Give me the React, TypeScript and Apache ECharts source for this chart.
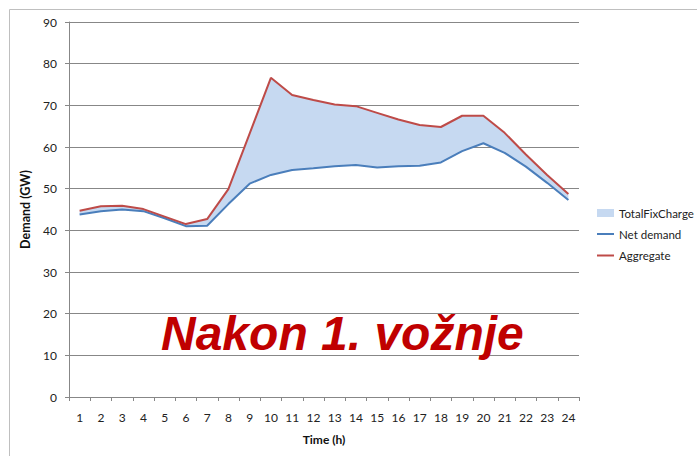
import React, { useEffect, useRef } from "react";
import * as echarts from "echarts";

const hours = ["1","2","3","4","5","6","7","8","9","10","11","12","13","14","15","16","17","18","19","20","21","22","23","24"];
const netDemand = [43.8, 44.6, 45.0, 44.6, 42.9, 41.0, 41.1, 46.3, 51.2, 53.3, 54.5, 54.9, 55.4, 55.7, 55.1, 55.4, 55.5, 56.3, 59.0, 60.9, 58.6, 55.3, 51.4, 47.3];
const aggregate = [44.7, 45.8, 45.9, 45.1, 43.3, 41.5, 42.7, 49.9, 63.2, 76.6, 72.5, 71.3, 70.2, 69.8, 68.2, 66.6, 65.3, 64.8, 67.5, 67.5, 63.4, 58.2, 53.3, 48.7];
const yTicks = { min: 0, max: 90, interval: 10 };

const FONT = "Lato";
const GRID = "#878787";

export default function App() {
  const ref = useRef<HTMLDivElement>(null);
  useEffect(() => {
    if (!ref.current) return;
    const chart = echarts.init(ref.current, null, { renderer: "svg" });
    const fill = aggregate.map((v, i) => +(v - netDemand[i]).toFixed(2));
    const legendText = { fontFamily: FONT, fontSize: 11.5, lineHeight: 14, color: "#222" };
    chart.setOption({
      animation: false,
      backgroundColor: "#ffffff",
      textStyle: { fontFamily: FONT },
      grid: { left: 69, right: 118, top: 22, bottom: 59, containLabel: false },
      legend: [
        {
          orient: "vertical",
          left: 592,
          top: 201,
          itemWidth: 17,
          itemHeight: 8,
          textStyle: legendText,
          data: [{ name: "TotalFixCharge", icon: "rect", itemStyle: { color: "#C6D9F1" } }],
        },
        {
          orient: "vertical",
          left: 592,
          top: 222,
          itemWidth: 17,
          itemHeight: 2,
          itemGap: 7.5,
          textStyle: legendText,
          data: [
            { name: "Net demand", icon: "rect", itemStyle: { color: "#4A7EBB" } },
            { name: "Aggregate", icon: "rect", itemStyle: { color: "#BE4B48" } },
          ],
        },
      ],
      xAxis: {
        type: "category",
        data: hours,
        boundaryGap: true,
        name: "Time (h)",
        nameLocation: "middle",
        nameGap: 36,
        nameTextStyle: { fontFamily: FONT, fontWeight: "bold", fontSize: 12, color: "#111" },
        axisLine: { lineStyle: { color: GRID, width: 1 } },
        axisTick: { show: true, length: 4, lineStyle: { color: GRID } },
        axisLabel: { margin: 14, fontSize: 12, color: "#222", fontFamily: FONT, interval: 0 },
      },
      yAxis: {
        type: "value",
        min: yTicks.min,
        max: yTicks.max,
        interval: yTicks.interval,
        name: "Demand (GW)",
        nameLocation: "middle",
        nameRotate: 90,
        nameGap: 34,
        nameTextStyle: { fontFamily: FONT, fontWeight: "bold", fontSize: 12.5, color: "#111" },
        axisLine: { show: true, lineStyle: { color: GRID, width: 1 } },
        axisTick: { show: true, length: 4, lineStyle: { color: GRID } },
        axisLabel: { margin: 12, fontSize: 12, color: "#222", fontFamily: FONT },
        splitLine: { show: true, lineStyle: { color: GRID, width: 1 } },
      },
      series: [
        {
          name: "base",
          type: "line",
          stack: "band",
          data: netDemand,
          symbol: "none",
          silent: true,
          lineStyle: { width: 0, opacity: 0 },
          z: 1,
        },
        {
          name: "TotalFixCharge",
          type: "line",
          stack: "band",
          data: fill,
          symbol: "none",
          silent: true,
          lineStyle: { width: 0, opacity: 0 },
          itemStyle: { color: "#C6D9F1" },
          areaStyle: { color: "#C6D9F1", opacity: 1 },
          z: 1,
        },
        {
          name: "Net demand",
          type: "line",
          data: netDemand,
          symbol: "none",
          itemStyle: { color: "#4A7EBB" },
          lineStyle: { color: "#4A7EBB", width: 2 },
          z: 3,
        },
        {
          name: "Aggregate",
          type: "line",
          data: aggregate,
          symbol: "none",
          itemStyle: { color: "#BE4B48" },
          lineStyle: { color: "#BE4B48", width: 2 },
          z: 4,
        },
      ],
      graphic: [
        {
          type: "rect",
          silent: true,
          shape: { x: 9.5, y: 9.5, width: 720, height: 480 },
          style: { fill: "none", stroke: "#BFBFBF", lineWidth: 1 },
          z: -1,
        },
        {
          type: "text",
          left: 161,
          top: 309,
          z: 100,
          style: {
            text: "Nakon 1. vožnje",
            font: 'italic bold 48px "Liberation Sans"',
            fill: "#C00000",
          },
        },
      ],
    });
    return () => chart.dispose();
  }, []);
  return (
    <div
      ref={ref}
      style={{ position: "fixed", left: 0, top: 0, width: 697, height: 456, background: "#fff" }}
    />
  );
}
